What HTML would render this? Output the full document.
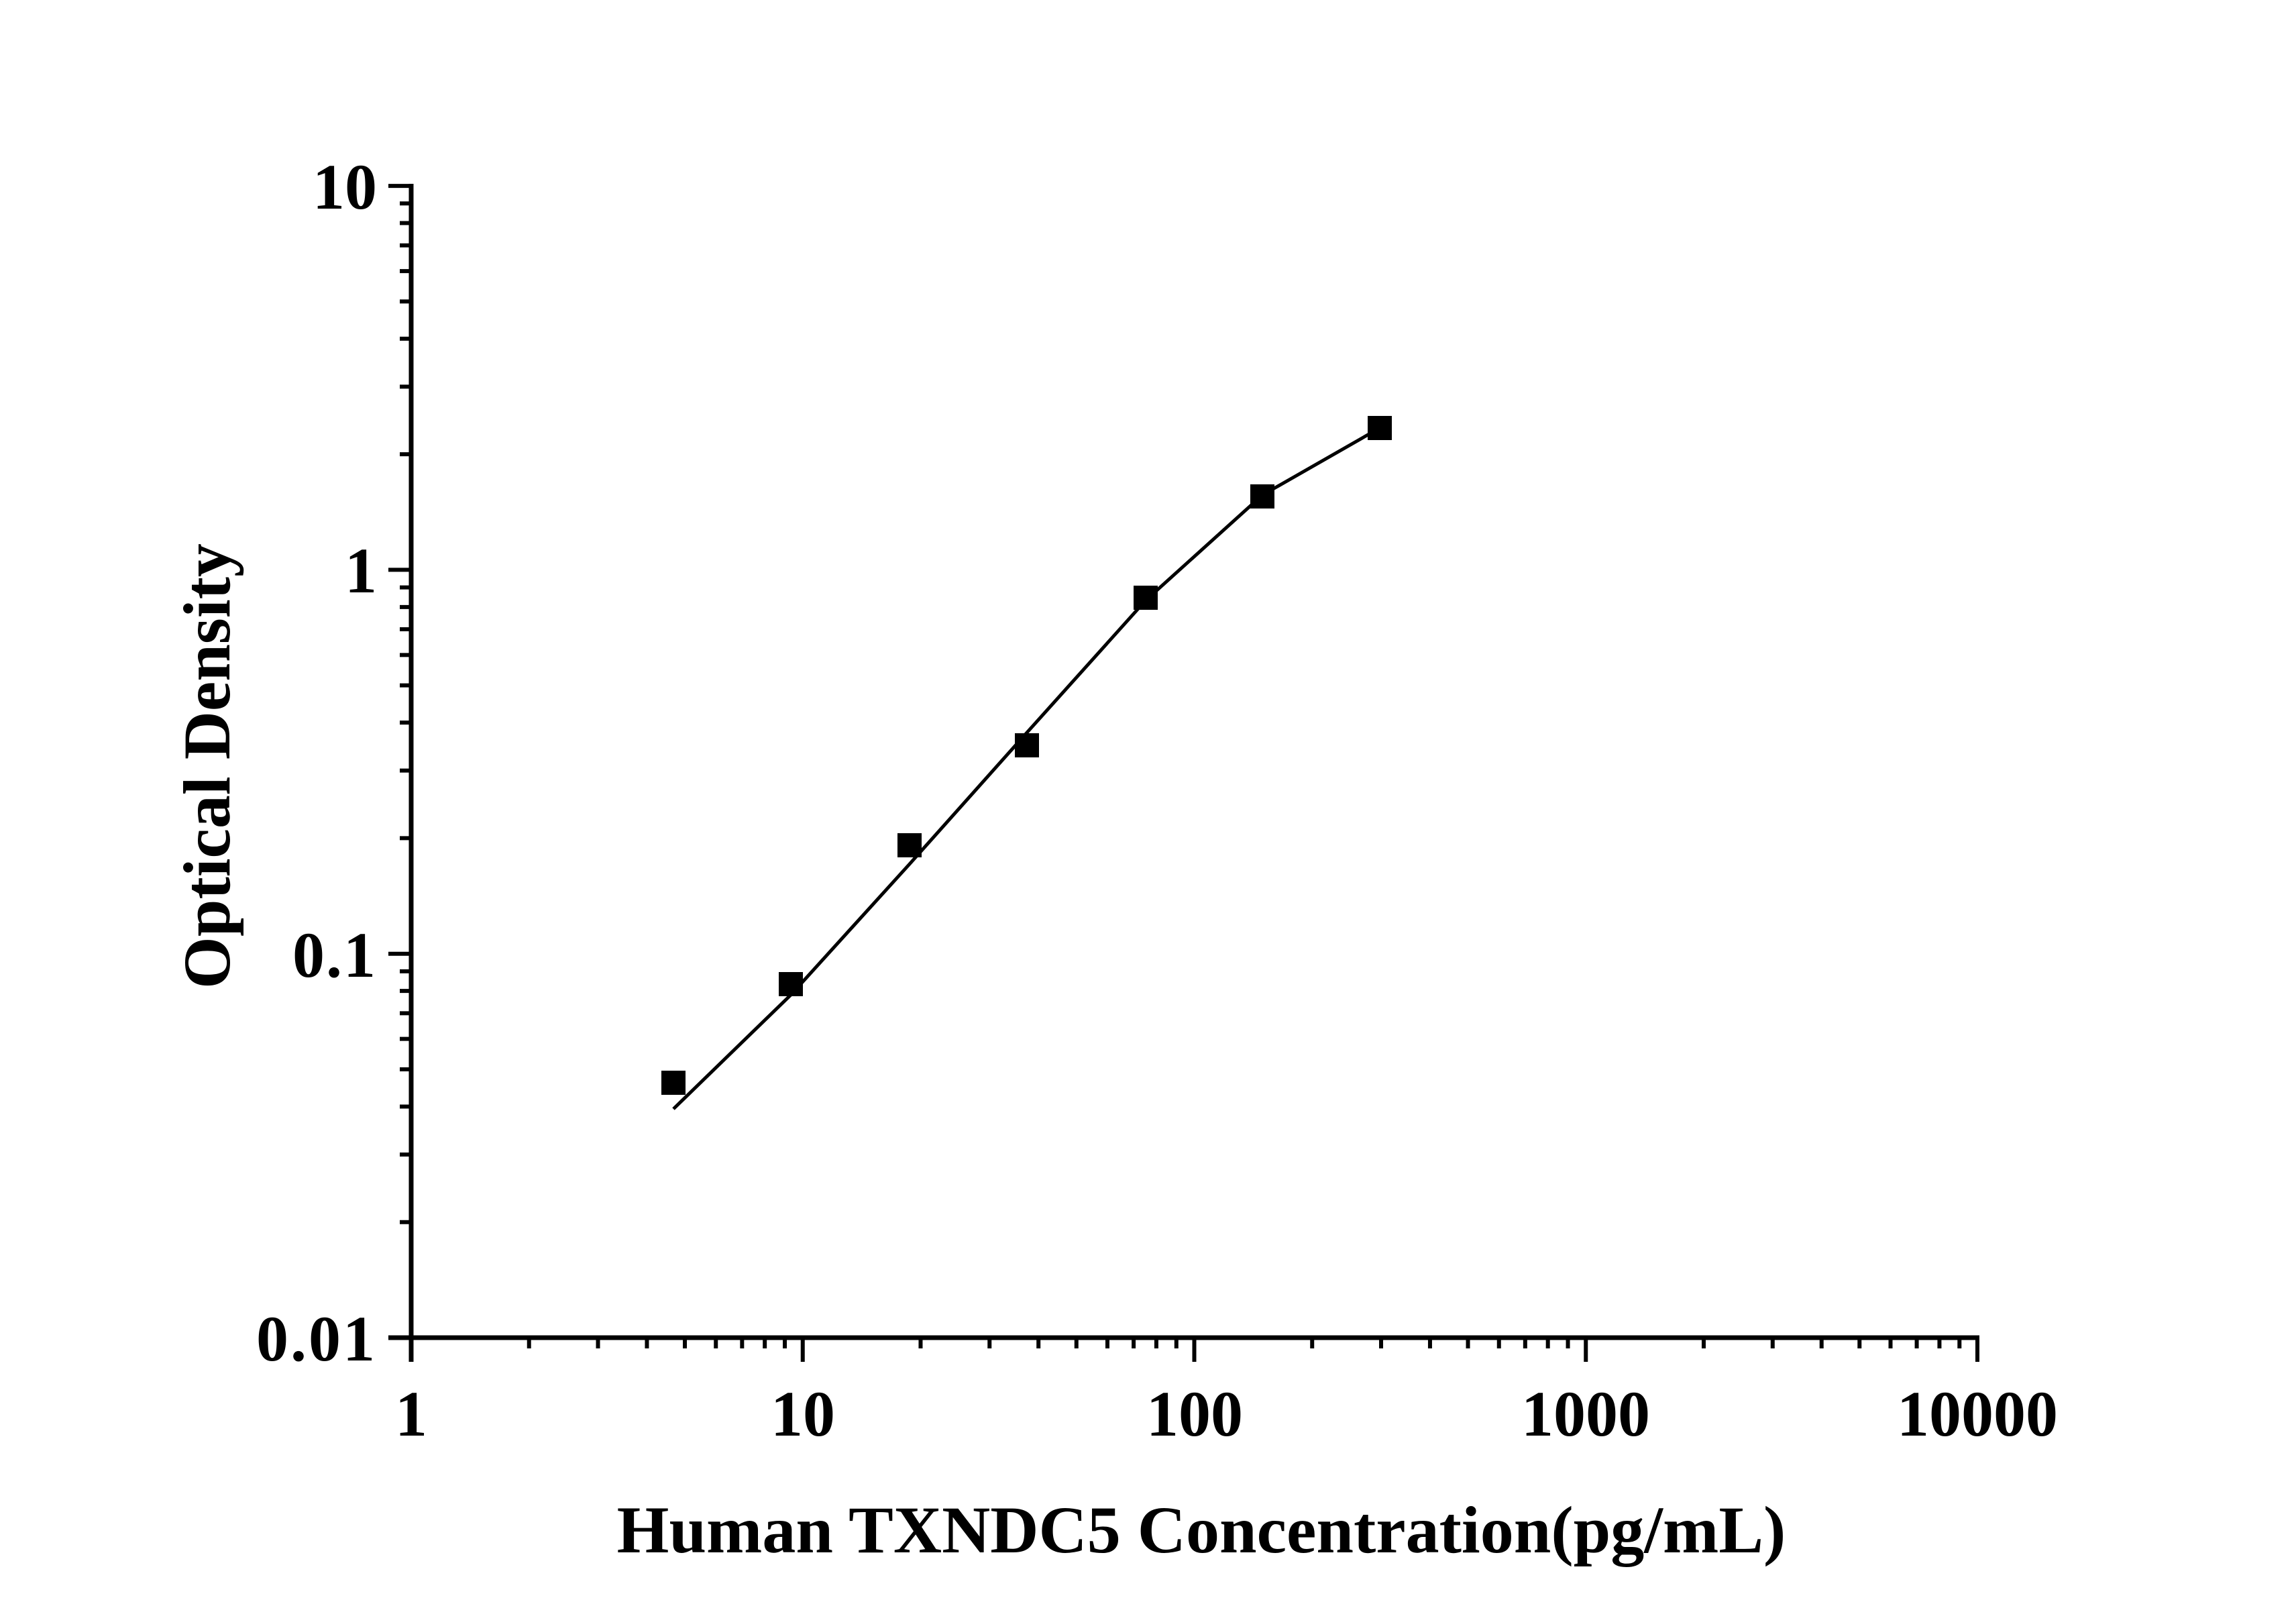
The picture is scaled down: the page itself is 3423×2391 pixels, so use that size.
<!DOCTYPE html>
<html><head><meta charset="utf-8"><style>
html,body{margin:0;padding:0;background:#fff;}
svg{display:block;}
text{font-family:"Liberation Serif",serif;font-weight:bold;fill:#000;}
</style></head><body>
<svg id="s" width="3423" height="2391" viewBox="0 0 3423 2391" xmlns="http://www.w3.org/2000/svg">
<g id="ticks" stroke="#000" stroke-width="6"></g>
<line x1="613" y1="274" x2="613" y2="2030" stroke="#000" stroke-width="7"/>
<line x1="579" y1="1994" x2="2951" y2="1994" stroke="#000" stroke-width="7"/>
<g font-size="96" text-anchor="end">
<text x="562" y="311">10</text>
<text x="562" y="883">1</text>
<text x="562" y="1456" letter-spacing="2">0.1</text>
<text x="562" y="2028" letter-spacing="3">0.01</text>
</g>
<g font-size="96" text-anchor="middle">
<text x="613" y="2140">1</text>
<text x="1197" y="2140">10</text>
<text x="1781" y="2140">100</text>
<text x="2364" y="2140">1000</text>
<text x="2948" y="2140">10000</text>
</g>
<text x="1791" y="2314" font-size="100" text-anchor="middle">Human TXNDC5 Concentration(pg/mL)</text>
<text transform="translate(342,1142) rotate(-90)" font-size="100" text-anchor="middle">Optical Density</text>
<polyline fill="none" stroke="#000" stroke-width="5" points="1004,1653 1179,1483 1356,1288 1531,1092 1708,895 1882,738 2057,638"/>
<g fill="#000">
<rect x="986" y="1596" width="36" height="36"/>
<rect x="1161" y="1449" width="36" height="36"/>
<rect x="1338" y="1242" width="36" height="36"/>
<rect x="1513" y="1093" width="36" height="36"/>
<rect x="1690" y="873" width="36" height="36"/>
<rect x="1864" y="722" width="36" height="36"/>
<rect x="2039" y="620" width="36" height="36"/>
</g>
</svg>
<script>
var g=document.getElementById('ticks'),h='';
var x0=613,dx=583.75,y0=1994,dy=572.3;
for(var d=0;d<4;d++){for(var k=2;k<=9;k++){var x=x0+(d+Math.log10(k))*dx;h+='<line x1="'+x+'" y1="1994" x2="'+x+'" y2="2010"/>';}}
for(var d=0;d<=4;d++){var x=x0+d*dx;h+='<line x1="'+x+'" y1="1994" x2="'+x+'" y2="2030"/>';}
for(var d=0;d<3;d++){for(var k=2;k<=9;k++){var y=y0-(d+Math.log10(k))*dy;h+='<line x1="596" y1="'+y+'" x2="613" y2="'+y+'"/>';}}
for(var d=0;d<=3;d++){var y=y0-d*dy;h+='<line x1="579" y1="'+y+'" x2="613" y2="'+y+'"/>';}
g.innerHTML=h;
</script>
</body></html>
